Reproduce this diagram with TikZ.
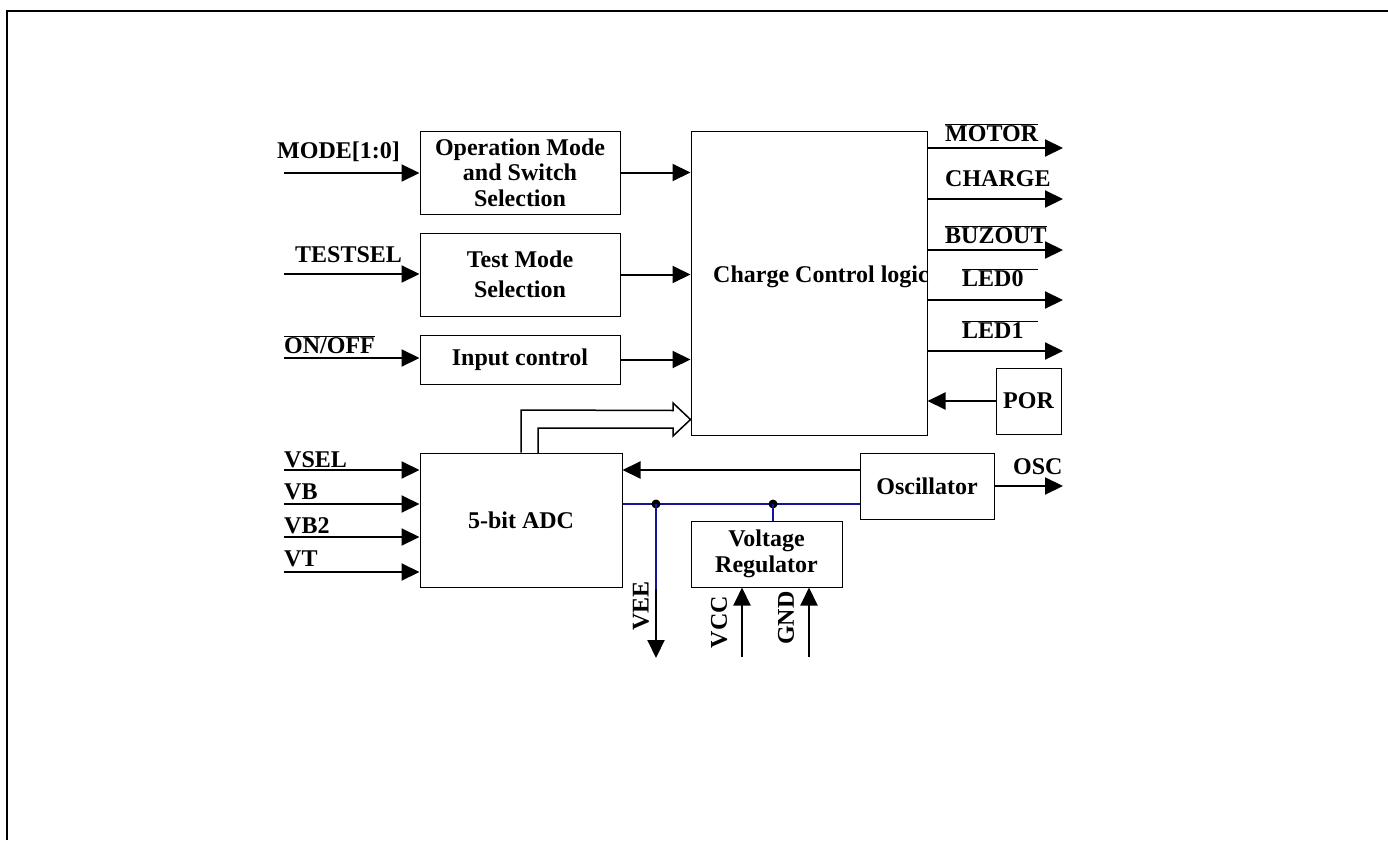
\documentclass[tikz,border=0pt]{standalone}
\usepackage{fontspec}
\setmainfont{Liberation Serif}
\usetikzlibrary{arrows.meta}
\definecolor{netblue}{RGB}{20,20,150}
\newcommand\ovl[1]{$\overline{\mbox{#1}}$}
\begin{document}
\begin{tikzpicture}[x=1pt,y=-1pt,
  font=\fontsize{24}{25.5}\selectfont\bfseries,
  box/.style={draw, line width=1pt, inner sep=0pt, align=center},
  arr/.style={line width=2pt, -{Triangle[length=18pt,width=17pt]}},
  lbl/.style={inner sep=0pt, anchor=west},
  bus/.style={line width=1.4pt, netblue},
  dot/.style={circle, fill=black, inner sep=0pt, minimum size=9pt}]
\useasboundingbox (0,0) rectangle (1388,840);
\draw[line width=2.5pt] (7,840) -- (7,11) -- (1388,11);

% boxes
\node[box, minimum width=200, minimum height=83] (opm) at (520,172.5) {Operation Mode\\and Switch\\Selection};
\node[box, minimum width=200, minimum height=83] (tms) at (520,274.5) {Test Mode\\[5pt]Selection};
\node[box, minimum width=200, minimum height=49] (inc) at (520,359.5) {Input control};
\node[box, minimum width=236, minimum height=304] (ccl) at (809,283) {};
\node[inner sep=0pt] (ccltxt) at (821,277) {Charge Control logic};
\node[box, minimum width=65, minimum height=66] (por) at (1028.5,401) {POR};
\node[box, minimum width=202, minimum height=134] (adc) at (521,520) {5-bit ADC};
\node[box, minimum width=134, minimum height=66] (osc) at (927,486) {Oscillator};
\node[box, minimum width=151, minimum height=66] (vreg) at (766.5,554) {Voltage\\Regulator};

% inputs
\coordinate (iMode) at (284,173);
\coordinate (iTest) at (284,274);
\coordinate (iOn) at (284,358);
\coordinate (iVsel) at (284,470);
\coordinate (iVb) at (284,504);
\coordinate (iVbb) at (284,537);
\coordinate (iVt) at (284,572);
\draw[arr] (iMode) -- (iMode -| opm.west);
\draw[arr] (iTest) -- (iTest -| tms.west);
\draw[arr] (iOn) -- (iOn -| inc.west);
\draw[arr] (iVsel) -- (iVsel -| adc.west);
\draw[arr] (iVb) -- (iVb -| adc.west);
\draw[arr] (iVbb) -- (iVbb -| adc.west);
\draw[arr] (iVt) -- (iVt -| adc.west);
\node[lbl] (lMode) at (277,152) {MODE[1:0]};
\node[lbl] (lTest) at (295,255) {TESTSEL};
\node[lbl] (lOn) at (284,345) {\ovl{ON/OFF}};
\node[lbl] (lVsel) at (284,460) {VSEL};
\node[lbl] (lVb) at (284,492) {VB};
\node[lbl] (lVbb) at (284,526) {VB2};
\node[lbl] (lVt) at (284,559) {VT};

% into charge control
\draw[arr] (opm.east) -- (opm.east -| ccl.west);
\draw[arr] (tms.east) -- (tms.east -| ccl.west);
\draw[arr] (inc.east) -- (inc.east -| ccl.west);

% outputs
\coordinate (oMotor) at (1063,148);
\coordinate (oCharge) at (1063,199);
\coordinate (oBuz) at (1063,250);
\coordinate (oLed0) at (1063,300);
\coordinate (oLed1) at (1063,351);
\coordinate (oOsc) at (1063,486);
\draw[arr] (oMotor -| ccl.east) -- (oMotor);
\draw[arr] (oCharge -| ccl.east) -- (oCharge);
\draw[arr] (oBuz -| ccl.east) -- (oBuz);
\draw[arr] (oLed0 -| ccl.east) -- (oLed0);
\draw[arr] (oLed1 -| ccl.east) -- (oLed1);
\draw[arr] (osc.east) -- (oOsc);
\node[lbl] (lMotor) at (945,133) {\ovl{MOTOR}};
\node[lbl] (lCharge) at (945,179) {CHARGE};
\node[lbl] (lBuz) at (945,235) {\ovl{BUZOUT}};
\node[lbl] (lLed0) at (962,278) {\ovl{LED0\hspace{14pt}}};
\node[lbl] (lLed1) at (962,330) {\ovl{LED1\hspace{14pt}}};
\node[lbl] (lOsc) at (1013,467) {OSC};

% POR and oscillator
\draw[arr] (por.west) -- (por.west -| ccl.east);
\coordinate (clk) at (860,470);
\draw[arr] (clk) -- (clk -| adc.east);

% wide bus arrow
\draw[line width=1.5pt, line join=miter] (adc.north) -- ++(0,-42.5) -- (673,410.5) -- (673,403) -- (ccl.west |- 0,419.5) -- (673,436) -- (673,428) -- (538,428) -- (538,453);

% supply net
\coordinate (busL) at (adc.east |- 0,504);
\coordinate (busR) at (osc.west |- 0,504);
\draw[bus] (busL) -- (busR);
\node[dot] (d1) at (656,504) {};
\node[dot] (d2) at (773,504) {};
\draw[bus] (d2.center) -- (d2 |- vreg.north);
\coordinate (veeMid) at (656,589);
\coordinate (veeEnd) at (656,658);
\draw[bus] (d1.center) -- (veeMid);
\draw[arr] (veeMid) -- (veeEnd);
\coordinate (vccIn) at (742,657);
\coordinate (gndIn) at (809,657);
\draw[arr] (vccIn) -- (vccIn |- vreg.south);
\draw[arr] (gndIn) -- (gndIn |- vreg.south);
\node[rotate=90, inner sep=0pt] (lVee) at (641,606) {VEE};
\node[rotate=90, inner sep=0pt] (lVcc) at (719,622) {VCC};
\node[rotate=90, inner sep=0pt] (lGnd) at (786,618) {GND};
\end{tikzpicture}
\end{document}
